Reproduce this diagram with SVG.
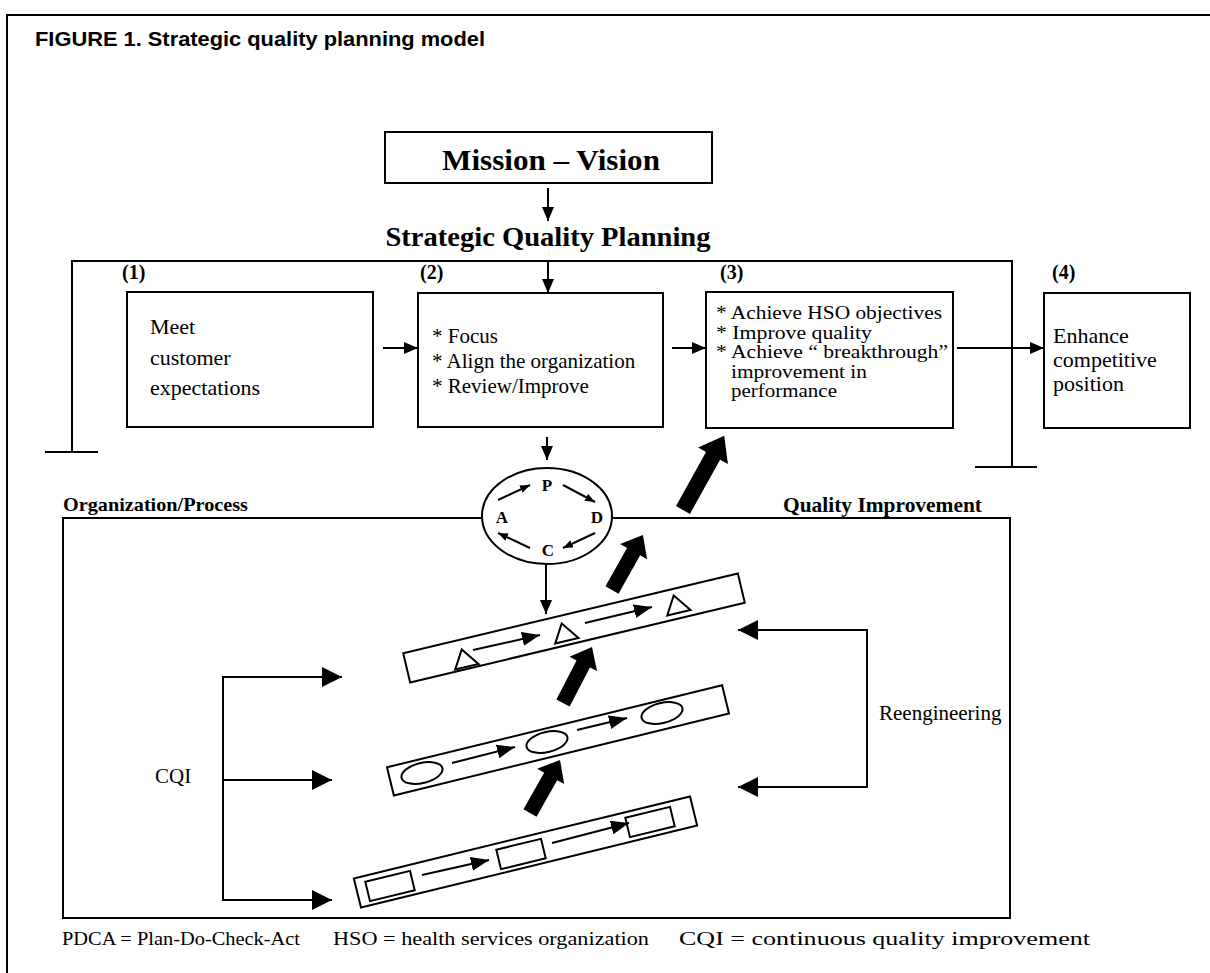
<svg xmlns="http://www.w3.org/2000/svg" width="1210" height="973" viewBox="0 0 1210 973">
<style>
.ln{stroke:#000;stroke-width:2;fill:none}
.bx{stroke:#000;stroke-width:2;fill:#fff}
.sh{stroke:#000;stroke-width:2;fill:none}
.blk{fill:#000;stroke:none}
.t{font-family:"Liberation Serif","Times New Roman",serif;fill:#000}
.b{font-weight:bold}
</style>
<defs>
<marker id="md" markerUnits="userSpaceOnUse" markerWidth="14" markerHeight="12" refX="14" refY="6" orient="auto"><path d="M0,0 L14,6 L0,12 z" fill="#000"/></marker>
<marker id="bd" markerUnits="userSpaceOnUse" markerWidth="18" markerHeight="14" refX="18" refY="7" orient="auto"><path d="M0,0 L18,7 L0,14 z" fill="#000"/></marker>
<marker id="xs" markerUnits="userSpaceOnUse" markerWidth="10" markerHeight="8" refX="10" refY="4" orient="auto"><path d="M0,0 L10,4 L0,8 z" fill="#000"/></marker>
<marker id="lg" markerUnits="userSpaceOnUse" markerWidth="20" markerHeight="20" refX="20" refY="10" orient="auto"><path d="M0,0 L20,10 L0,20 z" fill="#000"/></marker>
</defs>
<rect width="1210" height="973" fill="#fff"/>
<!-- frame -->
<path class="ln" d="M7,973 V15 H1210"/>
<text class="t" x="35" y="46" style="font-family:'Liberation Sans',Arial,sans-serif;font-weight:bold;font-size:20px" textLength="450" lengthAdjust="spacingAndGlyphs">FIGURE 1. Strategic quality planning model</text>

<g id="mission">
<rect class="bx" x="385" y="132" width="327" height="51"/>
<text class="t b" x="551" y="170" font-size="29" text-anchor="middle" textLength="218" lengthAdjust="spacingAndGlyphs">Mission – Vision</text>
</g>
<g id="sqp">
<text class="t b" x="548" y="246" font-size="28" text-anchor="middle" textLength="325" lengthAdjust="spacingAndGlyphs">Strategic Quality Planning</text>
<path class="ln" d="M45,452 H98 M72,452 V261 H1012 V467 M975,467 H1037"/>
</g>

<g id="box1">
<text class="t b" x="122" y="279" font-size="20">(1)</text>
<rect class="bx" x="127" y="292" width="246" height="135"/>
<text class="t" x="150" y="334" font-size="22">Meet</text>
<text class="t" x="150" y="365" font-size="22">customer</text>
<text class="t" x="150" y="395" font-size="22">expectations</text>
</g>
<g id="box2">
<text class="t b" x="420" y="279" font-size="20">(2)</text>
<rect class="bx" x="418" y="293" width="245" height="134"/>
<text class="t" x="432" y="343" font-size="21">* Focus</text>
<text class="t" x="432" y="368" font-size="21">* Align the organization</text>
<text class="t" x="432" y="393" font-size="21">* Review/Improve</text>
</g>
<g id="box3">
<text class="t b" x="720" y="279" font-size="20">(3)</text>
<rect class="bx" x="706" y="292" width="247" height="136"/>
<text class="t" x="716" y="319" font-size="18" textLength="226" lengthAdjust="spacingAndGlyphs">* Achieve HSO objectives</text>
<text class="t" x="716" y="338.5" font-size="18" textLength="156" lengthAdjust="spacingAndGlyphs">* Improve  quality</text>
<text class="t" x="716" y="358" font-size="18" textLength="232" lengthAdjust="spacingAndGlyphs">* Achieve “ breakthrough”</text>
<text class="t" x="731" y="377.5" font-size="18" textLength="136" lengthAdjust="spacingAndGlyphs">improvement in</text>
<text class="t" x="731" y="397" font-size="18" textLength="106" lengthAdjust="spacingAndGlyphs">performance</text>
</g>
<g id="box4">
<text class="t b" x="1052" y="279" font-size="20">(4)</text>
<rect class="bx" x="1044" y="293" width="146" height="135"/>
<text class="t" x="1053" y="343" font-size="22">Enhance</text>
<text class="t" x="1053" y="367" font-size="22">competitive</text>
<text class="t" x="1053" y="391" font-size="22">position</text>
</g>

<g id="orgprocess">
<text class="t b" x="63" y="511" font-size="19" textLength="185" lengthAdjust="spacingAndGlyphs">Organization/Process</text>
<text class="t b" x="783" y="512" font-size="21" textLength="199" lengthAdjust="spacingAndGlyphs">Quality Improvement</text>
<rect class="ln" x="63" y="518" width="947" height="400"/>
</g>

<g id="pdca">
<ellipse class="bx" cx="547" cy="516" rx="65" ry="48"/>
<text class="t b" x="547" y="491" font-size="17" text-anchor="middle">P</text>
<text class="t b" x="502" y="523" font-size="17" text-anchor="middle">A</text>
<text class="t b" x="597" y="523" font-size="17" text-anchor="middle">D</text>
<text class="t b" x="548" y="556" font-size="17" text-anchor="middle">C</text>
<g class="ln" stroke-width="1.5">
<line x1="498" y1="500" x2="530" y2="485" marker-end="url(#xs)"/>
<line x1="563" y1="485" x2="595" y2="502" marker-end="url(#xs)"/>
<line x1="595" y1="533" x2="563" y2="548" marker-end="url(#xs)"/>
<line x1="530" y1="548" x2="498" y2="533" marker-end="url(#xs)"/>
</g>
</g>

<g id="band1">
<rect class="bx" x="-172" y="-15" width="344" height="30" transform="translate(574,628) rotate(-13.4)"/>
<polygon class="sh" points="-12,8 12,8 -1,-10" transform="translate(465,659) rotate(-13.5)"/>
<polygon class="sh" points="-12,8 12,8 -1,-10" transform="translate(565,633) rotate(-13.5)"/>
<polygon class="sh" points="-12,8 12,8 -1,-10" transform="translate(677,605) rotate(-13.5)"/>
</g>
<g id="band2">
<rect class="bx" x="-172" y="-14.5" width="345" height="29" transform="translate(557.5,740.5) rotate(-13.75)"/>
<ellipse class="sh" cx="0" cy="0" rx="21" ry="10" transform="translate(422,773) rotate(-13.5)"/>
<ellipse class="sh" cx="0" cy="0" rx="21" ry="10" transform="translate(547,742) rotate(-13.5)"/>
<ellipse class="sh" cx="0" cy="0" rx="21" ry="10" transform="translate(662,713) rotate(-13.5)"/>
</g>
<g id="band3">
<rect class="bx" x="-173" y="-15" width="346" height="30" transform="translate(525.5,852) rotate(-13.7)"/>
<rect class="sh" x="-23" y="-10" width="46" height="20" transform="translate(390,886) rotate(-13.5)"/>
<rect class="sh" x="-23" y="-10" width="46" height="20" transform="translate(521,854) rotate(-13.5)"/>
<rect class="sh" x="-23" y="-10" width="46" height="20" transform="translate(650,822) rotate(-13.5)"/>
</g>

<g id="cqi">
<text class="t" x="155" y="783" font-size="21">CQI</text>
</g>
<g id="reengineering">
<text class="t" x="879" y="720" font-size="21">Reengineering</text>
</g>

<g id="connectors">
<line class="ln" x1="548" y1="188" x2="548" y2="221" marker-end="url(#md)"/>
<line class="ln" x1="548" y1="262" x2="548" y2="293" marker-end="url(#md)"/>
<line class="ln" x1="383" y1="348" x2="418" y2="348" marker-end="url(#md)"/>
<line class="ln" x1="672" y1="348" x2="706" y2="348" marker-end="url(#md)"/>
<line class="ln" x1="957" y1="348" x2="1044" y2="348" marker-end="url(#md)"/>
<line class="ln" x1="547" y1="437" x2="547" y2="460" marker-end="url(#md)"/>
<line class="ln" x1="546" y1="564" x2="546" y2="614" marker-end="url(#md)"/>
<!-- band inner arrows -->
<line class="ln" x1="473" y1="650" x2="540" y2="635" marker-end="url(#bd)"/>
<line class="ln" x1="585" y1="623" x2="652" y2="607" marker-end="url(#bd)"/>
<line class="ln" x1="452" y1="763" x2="515" y2="747" marker-end="url(#bd)"/>
<line class="ln" x1="577" y1="730" x2="627" y2="718" marker-end="url(#bd)"/>
<line class="ln" x1="422" y1="875" x2="489" y2="860" marker-end="url(#bd)"/>
<line class="ln" x1="552" y1="843" x2="629" y2="823" marker-end="url(#bd)"/>
<!-- CQI bracket -->
<path class="ln" d="M342,677 H223 V900 H332 M223,780 H332"/>
<line class="ln" x1="300" y1="677" x2="342" y2="677" marker-end="url(#lg)"/>
<line class="ln" x1="300" y1="780" x2="332" y2="780" marker-end="url(#lg)"/>
<line class="ln" x1="300" y1="900" x2="332" y2="900" marker-end="url(#lg)"/>
<!-- Reengineering bracket -->
<path class="ln" d="M760,630 H867 V787 H760"/>
<line class="ln" x1="780" y1="630" x2="738" y2="630" marker-end="url(#lg)"/>
<line class="ln" x1="780" y1="787" x2="738" y2="787" marker-end="url(#lg)"/>
<!-- block arrows -->
<polygon class="blk" points="0,-8 62,-8 62,-17 85,0 62,17 62,8 0,8" transform="translate(683,510) rotate(-61)"/>
<polygon class="blk" points="0,-7.5 44,-7.5 44,-15.5 63,0 44,15.5 44,7.5 0,7.5" transform="translate(612,590) rotate(-60.6)"/>
<polygon class="blk" points="0,-7.5 44,-7.5 44,-15.5 63,0 44,15.5 44,7.5 0,7.5" transform="translate(563,703) rotate(-62.6)"/>
<polygon class="blk" points="0,-7.5 42,-7.5 42,-15.5 61,0 42,15.5 42,7.5 0,7.5" transform="translate(530,813) rotate(-60.5)"/>
</g>

<g id="footer">
<text class="t" x="62" y="945" font-size="19" textLength="238" lengthAdjust="spacingAndGlyphs">PDCA = Plan-Do-Check-Act</text>
<text class="t" x="333" y="945" font-size="19" textLength="316" lengthAdjust="spacingAndGlyphs">HSO = health services organization</text>
<text class="t" x="679" y="945" font-size="19" textLength="411" lengthAdjust="spacingAndGlyphs">CQI = continuous quality improvement</text>
</g>
</svg>
